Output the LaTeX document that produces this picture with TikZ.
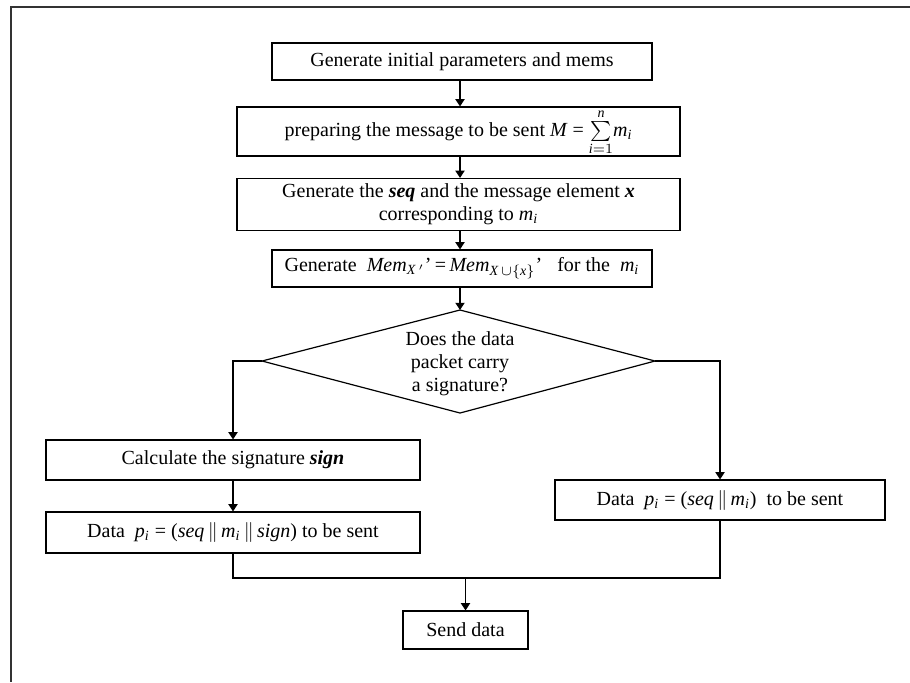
\documentclass[tikz,border=0pt]{standalone}
\usepackage{amsmath}
\usepackage{fontspec}
\setmainfont{Liberation Serif}
\usetikzlibrary{arrows.meta}
\newcommand{\ti}[1]{\text{\textit{#1}}}
\begin{document}
\begin{tikzpicture}[x=0.5pt,y=-0.5pt,
  box/.style={draw, line width=0.6pt, inner sep=0pt, align=center, font=\fontsize{10}{11.5}\selectfont},
  arr/.style={line width=0.6pt, -{Triangle[length=3.6pt,width=4.6pt]}},
  ln/.style={line width=0.6pt}]
\useasboundingbox (0,0) rectangle (910,682);
\draw[line width=1.2pt, black!80] (910,7) -- (11,7) -- (11,682);

\node[box, minimum width=190pt, minimum height=18.5pt] (b1) at (462,61.5) {Generate initial parameters and mems};
\node[box, minimum width=221.5pt, minimum height=24.5pt] (b2) at (458.5,131.5)
  {\raisebox{-0.8pt}{preparing the message to be sent \textit{M} = \smash{$\textstyle\sum\limits_{\ti{i}=1}^{\ti{n}}$}\textit{m}$_{\ti{i}}$}};
\node[box, minimum width=221.5pt, minimum height=26pt] (b3) at (458.5,204.5)
  {Generate the \textbf{\textit{seq}} and the message element \textbf{\textit{x}}\\corresponding to \textit{m}$_{\ti{i}}$};
\node[box, minimum width=190pt, minimum height=18.5pt] (b4) at (462,268.5)
  {Generate \ \textit{Mem}$_{\ti{X}\,'}$'\,=\,\textit{Mem}$_{\ti{X}\,\cup\{\ti{x}\}}$' \ \ for the \ \textit{m}$_{\ti{i}}$};

\coordinate (dt) at (460,310);
\coordinate (dl) at (262,361);
\coordinate (dr) at (655,361);
\coordinate (db) at (460,413);
\draw[ln] (dt) -- (dr) -- (db) -- (dl) -- cycle;
\node[align=center, inner sep=0pt, font=\fontsize{10}{11.5}\selectfont] (dq) at (460,364)
  {Does the data\\packet carry\\a signature?};

\node[box, minimum width=187pt, minimum height=20pt] (b5) at (233,460) {Calculate the signature \textbf{\textit{sign}}};
\node[box, minimum width=187pt, minimum height=20.5pt] (b6) at (233,532.5)
  {Data \ \textit{p}$_{\ti{i}}$ = (\textit{seq}\,$\|$\,\textit{m}$_{\ti{i}}$\,$\|$\,\textit{sign}) to be sent};
\node[box, minimum width=165pt, minimum height=20pt] (b7) at (720,500)
  {Data \ \textit{p}$_{\ti{i}}$ = (\textit{seq}\,$\|$\,\textit{m}$_{\ti{i}}$) \ to be sent};
\node[box, minimum width=62.5pt, minimum height=19pt] (b8) at (465.5,630) {Send data};

\coordinate (m) at (465.5,578);

\draw[arr] (b1.south -| 460,0) -- (460,0 |- b2.north);
\draw[arr] (b2.south -| 460,0) -- (460,0 |- b3.north);
\draw[arr] (b3.south -| 460,0) -- (460,0 |- b4.north);
\draw[arr] (b4.south -| 460,0) -- (dt);
\draw[arr] (dl) -| (b5.north);
\draw[arr] (dr) -| (b7.north);
\draw[arr] (b5.south) -- (b6.north);
\draw[ln] (b6.south) |- (m) -| (b7.south);
\draw[arr] (m) -- (b8.north);
\end{tikzpicture}
\end{document}
